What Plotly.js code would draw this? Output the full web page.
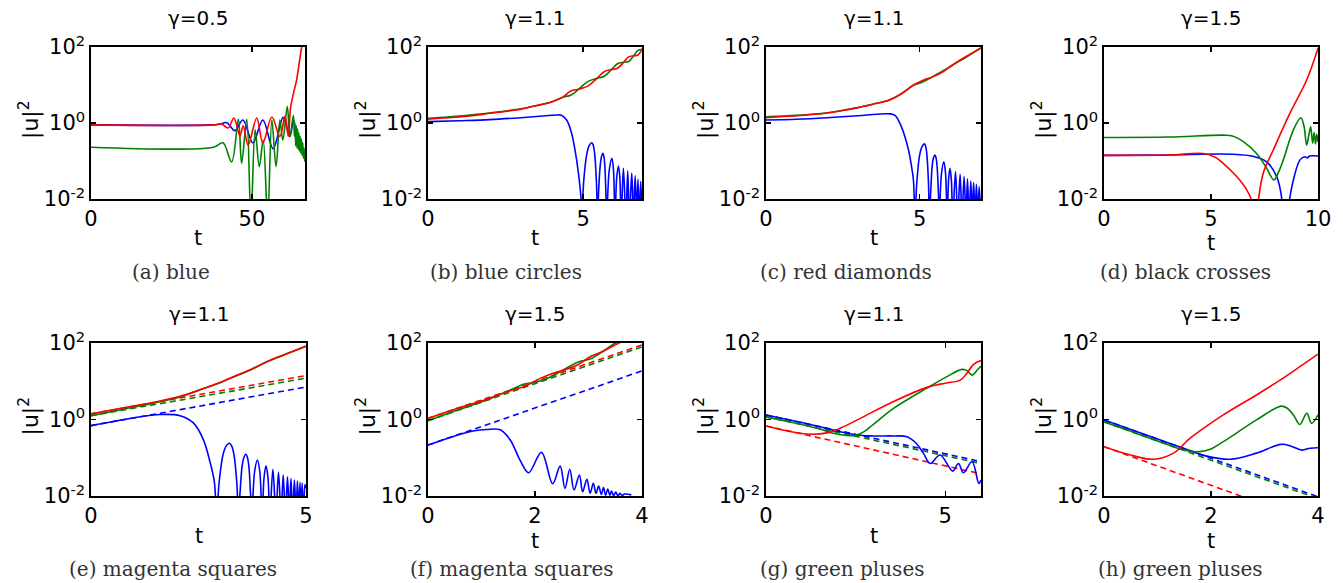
<!DOCTYPE html>
<html>
<head>
<meta charset="utf-8">
<script src="https://cdn.plot.ly/plotly-3.0.1.min.js"></script>
<style>
html,body{margin:0;padding:0;background:#fff;}
#chart{width:1343px;height:583px;}
</style>
</head>
<body>
<div id="chart"></div>
<script>
// ---------- labels ----------
const panelTitles = ['γ=0.5','γ=1.1','γ=1.1','γ=1.5','γ=1.1','γ=1.5','γ=1.1','γ=1.5'];
const captions = ['(a) blue','(b) blue circles','(c) red diamonds','(d) black crosses',
                  '(e) magenta squares','(f) magenta squares','(g) green pluses','(h) green pluses'];
const xMax = [66.5, 6.9, 7, 10, 5, 4, 6, 4];
const xTicks = [[0,50],[0,5],[0,5],[0,5,10],[0,5],[0,2,4],[0,5],[0,2,4]];
const yTickVals = [0.01, 1, 100];
const yTickText = ['10<sup>-2</sup>','10<sup>0</sup>','10<sup>2</sup>'];

// ---------- (a) ----------
const aBlueT = [0, 38, 40, 42.2, 44.7, 47.2, 50.3, 53.4, 56.6, 59.7, 61.8, 62.9, 63.5];
const aBlueY = [0.89, 0.89, 0.93, 1.02, 0.63, 1.2, 0.30, 1.2, 0.21, 1.41, 0.44, 1.2, 0.63];
const aGreenT = [0, 38, 41, 43.7, 45.8, 46.8, 48.4, 49.7, 51.0, 52.3, 53.5, 54.9, 56.2, 57.5, 58.7, 59.6, 61.0, 61.8, 62.9, 63.2, 63.4, 63.6, 63.8, 64.0, 64.2, 64.4, 64.6, 64.8, 65.0, 65.2, 65.4, 65.6, 65.8, 66.0, 66.2, 66.4, 66.5];
const aGreenY = [0.23, 0.23, 0.30, 0.095, 1.25, 0.087, 1.25, 0.003, 0.66, 0.071, 0.355, 0.003, 1.2, 0.071, 1.2, 0.355, 2.7, 0.44, 1.6, 0.45, 1.0, 0.25, 0.85, 0.22, 0.7, 0.2, 0.55, 0.18, 0.45, 0.16, 0.38, 0.14, 0.3, 0.12, 0.22, 0.1, 0.12];
const aRedT = [0, 38, 40.5, 42.6, 44.4, 46.3, 47.3, 48.8, 51.5, 53.4, 56.2, 58.7, 60.3, 61.3, 62.0, 62.9, 63.9, 65.5, 66.5];
const aRedY = [0.89, 0.89, 0.95, 0.74, 1.35, 0.45, 0.85, 0.26, 1.35, 0.3, 1.44, 0.44, 1.5, 0.44, 2.5, 6, 13.5, 100, 200];

// ---------- (b) ----------
const bT = [0, 0.5, 1, 1.5, 2, 2.5, 3, 3.5, 4, 4.35, 4.6, 4.86, 5.15, 5.44, 5.68, 5.92, 6.11, 6.31, 6.47, 6.63, 6.77, 6.9];
const bGreenY = [1.334, 1.413, 1.514, 1.660, 1.841, 2.065, 2.371, 2.884, 3.631, 4.786, 5.37, 7.762, 12.3, 14.79, 16.98, 25.7, 36.3, 39.8, 41.7, 58.9, 81.3, 87.1];
const bRedY = [1.259, 1.349, 1.445, 1.585, 1.799, 2.018, 2.317, 2.851, 3.631, 4.786, 6.918, 7.762, 9.333, 14.79, 22.39, 25.7, 27.54, 39.8, 54.95, 58.9, 61.66, 87.1];
const bBlueT = [0, 1, 2, 3, 3.5, 4.15, 4.3, 4.47, 4.63, 4.74, 4.85, 4.93, 4.96, 5.02, 5.12, 5.2, 5.28, 5.33, 5.375, 5.43, 5.47, 5.50, 5.555, 5.60, 5.64, 5.67, 5.70, 5.735, 5.76, 5.845, 5.93, 5.98, 6.03, 6.085, 6.14, 6.185, 6.23, 6.30, 6.38, 6.44, 6.49, 6.57, 6.62, 6.68, 6.73, 6.77, 6.81, 6.86, 6.9];
const bBlueY = [1.084, 1.148, 1.23, 1.38, 1.479, 1.622, 1.6, 1.202, 0.537, 0.195, 0.0479, 0.0115, 0.00316, 0.0288, 0.151, 0.257, 0.302, 0.257, 0.151, 0.0288, 0.00316, 0.0151, 0.0794, 0.135, 0.1585, 0.135, 0.0794, 0.0151, 0.00316, 0.0589, 0.1175, 0.0589, 0.00316, 0.0372, 0.0741, 0.0372, 0.00316, 0.0646, 0.00316, 0.055, 0.00316, 0.0479, 0.00316, 0.0407, 0.00316, 0.0331, 0.00316, 0.0288, 0.00316];

// ---------- (c) ----------
const cT = [0, 1, 2, 2.5, 3, 3.5, 4, 4.4, 4.8, 5.1, 5.45, 5.8, 6.1, 6.5, 7.0];
const cGreenY = [1.462, 1.585, 1.862, 2.163, 2.570, 3.162, 3.981, 5.754, 9.772, 12.0, 16.98, 24.5, 34.67, 53.0, 95.5];
const cRedY = [1.380, 1.549, 1.841, 2.138, 2.541, 3.162, 3.981, 5.888, 10.0, 13.2, 16.6, 23.4, 34.67, 55.5, 93.3];
const cBlueT = [0, 1, 2, 3, 3.6, 4.04, 4.2, 4.36, 4.5, 4.64, 4.72, 4.80, 4.85, 4.91, 5.0, 5.08, 5.16, 5.20, 5.24, 5.29, 5.32, 5.36, 5.41, 5.455, 5.50, 5.535, 5.57, 5.615, 5.64, 5.715, 5.79, 5.845, 5.90, 5.945, 5.99, 6.035, 6.08, 6.17, 6.24, 6.32, 6.38, 6.45, 6.51, 6.56, 6.61, 6.67, 6.71, 6.76, 6.81, 6.85, 6.90, 6.94, 7.0];
const cBlueY = [1.2, 1.26, 1.38, 1.55, 1.70, 1.74, 1.58, 0.977, 0.5, 0.195, 0.089, 0.0316, 0.00316, 0.0269, 0.141, 0.240, 0.282, 0.240, 0.141, 0.0269, 0.00316, 0.0138, 0.0724, 0.123, 0.1445, 0.123, 0.0724, 0.0138, 0.00316, 0.0479, 0.0955, 0.0479, 0.00316, 0.0324, 0.0646, 0.0324, 0.00316, 0.0525, 0.00316, 0.0447, 0.00316, 0.0389, 0.00316, 0.0339, 0.00316, 0.0295, 0.00316, 0.0269, 0.00316, 0.0245, 0.00316, 0.0214, 0.00316];

// ---------- (d) ----------
const dGreenT = [0, 3, 5.57, 6.0, 6.51, 7.13, 7.6, 7.94, 8.15, 8.38, 8.85, 9.2, 9.35, 9.47, 9.58, 9.66, 9.75, 9.82, 9.88, 9.94, 10];
const dGreenY = [0.417, 0.427, 0.479, 0.457, 0.324, 0.158, 0.0646, 0.0316, 0.0501, 0.107, 0.661, 1.38, 0.794, 0.263, 0.501, 0.794, 0.295, 0.562, 0.282, 0.501, 0.316];
const dRedT = [0, 3, 4.64, 5.2, 5.57, 6.2, 6.67, 6.93, 7.06, 7.2, 7.44, 7.91, 8.69, 9.47, 10];
const dRedY = [0.141, 0.1445, 0.158, 0.126, 0.0871, 0.0389, 0.0174, 0.00794, 0.001, 0.00794, 0.0479, 0.195, 1.82, 13.49, 93.3];
const dBlueT = [0, 3, 6, 7.0, 7.6, 8.07, 8.27, 8.49, 8.62, 8.85, 9.16, 9.39, 9.5, 9.6, 10];
const dBlueY = [0.141, 0.1445, 0.151, 0.132, 0.0955, 0.0389, 0.0141, 0.001, 0.0063, 0.0316, 0.107, 0.129, 0.120, 0.135, 0.135];

// ---------- (e) ----------
const eT = [0, 0.98, 1.5, 2.07, 2.53, 3.0, 3.31, 3.7, 4.08, 4.5, 5];
const eRedY = [1.413, 2.239, 2.884, 4.074, 6.026, 9.333, 13.18, 19.95, 32.36, 50.12, 83.18];
const eGreenY = [1.259, 2.089, 2.754, 3.890, 5.888, 9.120, 12.88, 19.5, 31.62, 48.98, 81.28];
const eDashT = [0, 5];
const eRedDashY = [1.413, 14.13];
const eGreenDashY = [1.259, 12.02];
const eBlueDashY = [0.692, 7.079];
const eBlueT = [0, 0.98, 1.6, 2.07, 2.38, 2.61, 2.77, 2.87, 2.92, 2.98, 3.07, 3.145, 3.22, 3.27, 3.325, 3.39, 3.43, 3.465, 3.515, 3.56, 3.60, 3.635, 3.67, 3.71, 3.74, 3.805, 3.87, 3.925, 3.98, 4.025, 4.07, 4.115, 4.16, 4.23, 4.30, 4.36, 4.42, 4.47, 4.52, 4.57, 4.61, 4.65, 4.69, 4.73, 4.77, 4.80, 4.83, 4.86, 4.89, 4.91, 4.94, 4.975, 5.0];
const eBlueY = [0.692, 1.096, 1.349, 1.259, 0.813, 0.302, 0.0759, 0.0229, 0.00316, 0.0229, 0.120, 0.204, 0.240, 0.204, 0.120, 0.0229, 0.00316, 0.01175, 0.0617, 0.1047, 0.123, 0.1047, 0.0617, 0.01175, 0.00316, 0.0437, 0.0871, 0.0437, 0.00316, 0.0309, 0.0617, 0.0309, 0.00316, 0.0501, 0.00316, 0.0417, 0.00316, 0.0355, 0.00316, 0.0316, 0.00316, 0.0288, 0.00316, 0.0263, 0.00316, 0.0245, 0.00316, 0.0229, 0.00316, 0.0219, 0.00316, 0.01995, 0.0158];

// ---------- (f) ----------
const fRedT = [0, 0.5, 1.1, 1.55, 1.8, 2.03, 2.3, 2.53, 2.8, 3.03, 3.25, 3.53, 3.6];
const fRedY = [1.072, 1.862, 3.388, 5.754, 7.244, 10.72, 15.49, 19.5, 26.92, 43.65, 58.88, 93.33, 104.7];
const fGreenT = [0, 0.5, 1.1, 1.55, 1.8, 2.03, 2.3, 2.53, 2.8, 3.03, 3.25, 3.48, 3.55];
const fGreenY = [0.933, 1.660, 3.236, 6.026, 8.511, 9.550, 13.18, 19.95, 31.62, 38.02, 57.54, 95.5, 107.2];
const fDashT = [0, 4];
const fRedDashY = [1.072, 89.1];
const fGreenDashY = [0.933, 79.4];
const fBlueDashY = [0.214, 18.62];
const fBlueT = [0, 0.5, 0.84, 1.1, 1.35, 1.54, 1.72, 1.88, 2.12, 2.33, 2.47, 2.56, 2.65, 2.73, 2.83, 2.89, 2.97, 3.03, 3.09, 3.14, 3.19, 3.24, 3.28, 3.32, 3.36, 3.40, 3.43, 3.47, 3.51, 3.55, 3.59, 3.63, 3.67, 3.8];
const fBlueY = [0.214, 0.372, 0.501, 0.550, 0.537, 0.288, 0.0871, 0.0407, 0.138, 0.0209, 0.0603, 0.0158, 0.0501, 0.01445, 0.0355, 0.01288, 0.0275, 0.01175, 0.0214, 0.01175, 0.0182, 0.01096, 0.0166, 0.01047, 0.01514, 0.01047, 0.01349, 0.01023, 0.01259, 0.01023, 0.01175, 0.01023, 0.01122, 0.01072];

// ---------- (g) ----------
const gDashT = [0, 6];
const gBlueDashY = [1.318, 0.0794];
const gGreenDashY = [1.175, 0.0708];
const gRedDashY = [0.676, 0.038];
const gRedT = [0, 0.5, 1.14, 1.7, 2.07, 2.63, 3.56, 4.49, 5.0, 5.42, 5.6, 5.8, 6.0];
const gRedY = [0.676, 0.525, 0.417, 0.447, 0.589, 1.072, 2.951, 6.918, 8.913, 10.72, 15.85, 28.18, 34.67];
const gGreenT = [0, 0.5, 1.0, 1.5, 1.88, 2.2, 2.48, 2.75, 2.98, 3.56, 4.49, 5.05, 5.47, 5.62, 5.75, 5.9, 6.0];
const gGreenY = [1.175, 0.933, 0.741, 0.562, 0.437, 0.389, 0.380, 0.490, 0.724, 1.950, 6.607, 13.18, 20.42, 18.62, 14.45, 19.95, 25.12];
const gBlueT = [0, 0.5, 1.0, 1.5, 2.07, 2.63, 3.0, 3.56, 3.93, 4.19, 4.39, 4.58, 4.86, 5.21, 5.37, 5.51, 5.75, 5.94, 6.0];
const gBlueY = [1.318, 1.047, 0.832, 0.646, 0.479, 0.389, 0.372, 0.372, 0.355, 0.240, 0.132, 0.0708, 0.1175, 0.0447, 0.0708, 0.0407, 0.0794, 0.0214, 0.0263];

// ---------- (h) ----------
const hDashT = [0, 4];
const hBlueDashY = [0.977, 0.00955];
const hGreenDashY = [0.871, 0.00851];
const hRedDashY = [0.195, 0.00186];
const hRedT = [0, 0.5, 0.92, 1.30, 1.61, 2.23, 2.85, 3.29, 3.66, 4.0];
const hRedY = [0.195, 0.1175, 0.0912, 0.132, 0.324, 1.318, 4.365, 10.72, 23.99, 51.29];
const hGreenT = [0, 0.5, 1.0, 1.5, 1.79, 2.0, 2.23, 2.85, 3.31, 3.42, 3.55, 3.66, 3.79, 3.88, 4.0];
const hGreenY = [0.871, 0.490, 0.275, 0.158, 0.1445, 0.170, 0.263, 0.977, 2.239, 1.995, 1.259, 0.741, 1.445, 0.794, 1.318];
const hBlueT = [0, 0.5, 1.0, 1.5, 1.9, 2.36, 2.85, 3.31, 3.5, 3.7, 3.85, 4.0];
const hBlueY = [0.977, 0.550, 0.309, 0.174, 0.112, 0.0912, 0.132, 0.224, 0.1995, 0.158, 0.178, 0.182];

// ---------- build ----------
const W = 1343, H = 583;
const BLUE = '#0000ff', GREEN = '#008000', RED = '#ff0000';
const boxes = [[91,305,47,199],[428,642,47,199],[766,981,47,199],[1104,1318,47,199],
               [91,306,343,496],[428,642,343,496],[766,981,343,496],[1104,1318,343,496]];
const xLabelY = [238,238,238,243,536,541,536,541];
const captionX = [171,506,846,1185,173,512,842,1180];

// series per panel: [x, y, color, dashed]
const panelSeries = [
  [[aBlueT,aBlueY,BLUE,false],[aGreenT,aGreenY,GREEN,false],[aRedT,aRedY,RED,false]],
  [[bBlueT,bBlueY,BLUE,false],[bT,bGreenY,GREEN,false],[bT,bRedY,RED,false]],
  [[cBlueT,cBlueY,BLUE,false],[cT,cGreenY,GREEN,false],[cT,cRedY,RED,false]],
  [[dBlueT,dBlueY,BLUE,false],[dGreenT,dGreenY,GREEN,false],[dRedT,dRedY,RED,false]],
  [[eDashT,eBlueDashY,BLUE,true],[eDashT,eGreenDashY,GREEN,true],[eDashT,eRedDashY,RED,true],
   [eBlueT,eBlueY,BLUE,false],[eT,eGreenY,GREEN,false],[eT,eRedY,RED,false]],
  [[fDashT,fBlueDashY,BLUE,true],[fDashT,fGreenDashY,GREEN,true],[fDashT,fRedDashY,RED,true],
   [fBlueT,fBlueY,BLUE,false],[fGreenT,fGreenY,GREEN,false],[fRedT,fRedY,RED,false]],
  [[gDashT,gRedDashY,RED,true],[gDashT,gGreenDashY,GREEN,true],[gDashT,gBlueDashY,BLUE,true],
   [gBlueT,gBlueY,BLUE,false],[gGreenT,gGreenY,GREEN,false],[gRedT,gRedY,RED,false]],
  [[hDashT,hRedDashY,RED,true],[hDashT,hGreenDashY,GREEN,true],[hDashT,hBlueDashY,BLUE,true],
   [hBlueT,hBlueY,BLUE,false],[hGreenT,hGreenY,GREEN,false],[hRedT,hRedY,RED,false]]
];

const traces = [];
const layout = {
  width: W, height: H,
  margin: {l:0, r:0, t:0, b:0},
  paper_bgcolor: '#fff', plot_bgcolor: '#fff',
  showlegend: false,
  annotations: []
};

const sansFont = 'DejaVu Sans, Liberation Sans, Arial, sans-serif';
const serifFont = 'DejaVu Serif, Liberation Serif, serif';

function px2x(p){ return p / W; }
function px2y(p){ return 1 - p / H; }

for (let i = 0; i < 8; i++) {
  const suf = i === 0 ? '' : String(i + 1);
  const [l, r, t, b] = boxes[i];
  const axCommon = {
    showline: true, linecolor: '#000', linewidth: 1.6, mirror: 'ticks',
    ticks: 'inside', ticklen: 5, tickwidth: 1.2, tickcolor: '#000',
    showgrid: false, zeroline: false,
    tickfont: {family: sansFont, size: 21, color: '#000'},
    fixedrange: true
  };
  layout['xaxis' + suf] = Object.assign({}, axCommon, {
    domain: [px2x(l), px2x(r)], anchor: 'y' + suf,
    range: [0, xMax[i]], tickvals: xTicks[i], ticktext: xTicks[i].map(String)
  });
  layout['yaxis' + suf] = Object.assign({}, axCommon, {
    domain: [px2y(b), px2y(t)], anchor: 'x' + suf,
    type: 'log', range: [-2, 2], tickvals: yTickVals, ticktext: yTickText
  });
  panelSeries[i].forEach(s => {
    traces.push({
      type: 'scatter', mode: 'lines',
      x: s[0], y: s[1],
      xaxis: 'x' + suf, yaxis: 'y' + suf,
      line: {color: s[2], width: 1.6, shape: 'spline', smoothing: 1, dash: s[3] ? '6px,4px' : 'solid'},
      hoverinfo: 'skip'
    });
  });
  const cx = (l + r) / 2, cy = (t + b) / 2;
  layout.annotations.push(
    {text: panelTitles[i], xref:'paper', yref:'paper', x: px2x(cx), y: px2y(t - 29),
     xanchor:'center', yanchor:'middle', showarrow:false,
     font:{family: sansFont, size: 20, color:'#000'}},
    {text: 't', xref:'paper', yref:'paper', x: px2x(cx), y: px2y(xLabelY[i]),
     xanchor:'center', yanchor:'middle', showarrow:false,
     font:{family: sansFont, size: 21, color:'#000'}},
    {text: '|u|<sup>2</sup>', xref:'paper', yref:'paper', x: px2x(l - 62), y: px2y(cy - 3),
     xanchor:'center', yanchor:'middle', showarrow:false, textangle: -90,
     font:{family: sansFont, size: 22, color:'#000'}},
    {text: captions[i], xref:'paper', yref:'paper', x: px2x(captionX[i]), y: px2y(t < 100 ? 272 : 569),
     xanchor:'center', yanchor:'middle', showarrow:false,
     font:{family: serifFont, size: 20, color:'#333'}}
  );
}

Plotly.newPlot('chart', traces, layout, {displayModeBar: false, staticPlot: true});
</script>
</body>
</html>
